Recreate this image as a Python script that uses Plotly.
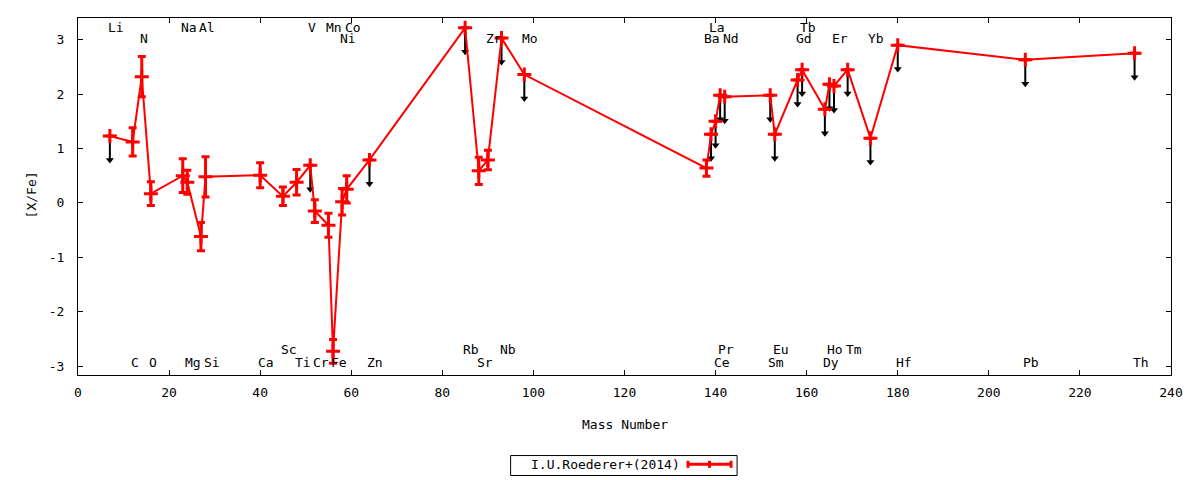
import plotly.graph_objects as go

elements = ["Li", "C", "N", "O", "Na", "Mg", "Al", "Si", "Ca", "Sc", "Ti", "V", "Cr", "Mn", "Fe",
            "Ni", "Co", "Zn", "Rb", "Sr", "Zr", "Nb", "Mo", "Ba", "La", "Ce", "Pr", "Nd", "Sm",
            "Eu", "Gd", "Tb", "Dy", "Ho", "Er", "Tm", "Yb", "Hf", "Pb", "Th"]
mass = [7, 12, 14, 16, 23, 24, 27, 28, 40, 45, 48, 51, 52, 55, 56,
        58, 59, 64, 85, 88, 90, 93, 98, 138, 139, 140, 141, 142, 152,
        153, 158, 159, 164, 165, 166, 169, 174, 180, 208, 232]
xfe = [1.23, 1.12, 2.32, 0.17, 0.50, 0.38, -0.62, 0.48, 0.51, 0.12, 0.38, 0.69, -0.15, -0.41, -2.73,
       0.02, 0.25, 0.79, 3.22, 0.59, 0.79, 3.03, 2.36, 0.64, 1.26, 1.50, 1.98, 1.95, 1.98,
       1.26, 2.26, 2.45, 1.72, 2.18, 2.15, 2.45, 1.19, 2.90, 2.63, 2.75]
err = [None, 0.26, 0.37, 0.22, 0.31, 0.22, 0.26, 0.37, 0.23, 0.17, 0.235, None, 0.21, 0.22, 0.22,
       0.245, 0.25, None, None, 0.25, 0.18, None, None, 0.15, None, None, None, None, None,
       None, None, None, None, None, None, None, None, None, None, None]
upper_limit = [True, False, False, False, False, False, False, False, False, False, False, True, False, False, False,
               False, False, True, True, False, False, True, True, False, True, True, True, True, True,
               True, True, True, True, True, True, True, True, True, True, True]

labels_top1 = ["Li", "Na", "Al", "V", "Mn", "Co", "La", "Tb"]
labels_top2 = ["N", "Ni", "Zr", "Mo", "Ba", "Nd", "Gd", "Er", "Yb"]
labels_bot1 = ["Sc", "Rb", "Nb", "Pr", "Eu", "Ho", "Tm"]
labels_bot2 = ["C", "O", "Mg", "Si", "Ca", "Ti", "Cr", "Fe", "Zn", "Sr", "Ce", "Sm", "Dy", "Hf", "Pb", "Th"]

series_name = "I.U.Roederer+(2014)"
x_ticks = list(range(0, 241, 20))
y_ticks = [-3, -2, -1, 0, 1, 2, 3]

FONT = "DejaVu Sans Mono"
FS = 13
ARROW_LEN = 0.5

fig = go.Figure()

# upper-limit arrows (shafts + heads)
sx, sy, hx, hy = [], [], [], []
for m, v, ul in zip(mass, xfe, upper_limit):
    if ul:
        sx += [m, m, None]
        sy += [v, v - ARROW_LEN + 0.08, None]
        hx.append(m)
        hy.append(v - ARROW_LEN + 0.06)
fig.add_trace(go.Scatter(x=sx, y=sy, mode="lines", line=dict(color="black", width=2),
                         hoverinfo="skip", showlegend=False))
fig.add_trace(go.Scatter(x=hx, y=hy, mode="markers",
                         marker=dict(symbol="triangle-down", size=7, color="black",
                                     line=dict(width=0)),
                         hoverinfo="skip", showlegend=False))

# main series
fig.add_trace(go.Scatter(
    x=mass, y=xfe, mode="lines+markers", name=series_name,
    line=dict(color="red", width=2),
    marker=dict(symbol="cross-thin", size=10, color="red", line=dict(color="red", width=3)),
    error_y=dict(type="data", array=err, visible=True, color="red", thickness=3, width=4),
    showlegend=False,
))

ann = []
for names, yy in ((labels_top1, 3.22), (labels_top2, 3.03), (labels_bot1, -2.69), (labels_bot2, -2.94)):
    for n in names:
        ann.append(dict(x=mass[elements.index(n)], y=yy, xref="x", yref="y", text=n,
                        showarrow=False, xanchor="left", yanchor="middle", xshift=-4,
                        font=dict(family=FONT, size=FS, color="black")))

# axis titles
ann.append(dict(x=0.5, y=-0.138, xref="paper", yref="paper", text="Mass Number", showarrow=False,
                xanchor="center", yanchor="middle", font=dict(family=FONT, size=FS, color="black")))
ann.append(dict(x=-0.043, y=0.503, xref="paper", yref="paper", text="[X/Fe]", showarrow=False,
                textangle=-90, xanchor="center", yanchor="middle",
                font=dict(family=FONT, size=FS, color="black")))

# custom key (gnuplot style: text then sample)
ann.append(dict(x=0.5530, y=-0.2505, xref="paper", yref="paper", text=series_name, showarrow=False,
                xanchor="right", yanchor="middle", font=dict(family=FONT, size=FS, color="black")))
shapes = [
    dict(type="rect", xref="paper", yref="paper", x0=0.3958, x1=0.6030, y0=-0.2815, y1=-0.2256,
         line=dict(color="black", width=1), fillcolor="rgba(0,0,0,0)"),
    dict(type="line", xref="paper", yref="paper", x0=0.5581, x1=0.5975, y0=-0.2502, y1=-0.2502,
         line=dict(color="red", width=3)),
]
for cx in (0.5581, 0.5778, 0.5975):
    shapes.append(dict(type="line", xref="paper", yref="paper", x0=cx, x1=cx, y0=-0.2600, y1=-0.2404,
                       line=dict(color="red", width=3)))

# page body has an 8px margin: size the figure so the plot area lands where the reference has it
fig.update_layout(
    width=1184, height=472,
    margin=dict(l=70, r=15, t=9, b=105, pad=0),
    paper_bgcolor="white", plot_bgcolor="white",
    font=dict(family=FONT, size=FS, color="black"),
    annotations=ann, shapes=shapes,
    showlegend=False,
)
fig.update_xaxes(range=[0, 240], tickvals=x_ticks, ticktext=[str(t) for t in x_ticks],
                 showgrid=False, zeroline=False, showline=True, linecolor="black", linewidth=1,
                 mirror="ticks", ticks="inside", ticklen=5, tickcolor="black", tickwidth=1,
                 ticklabelstandoff=5, tickfont=dict(family=FONT, size=FS, color="black"))
fig.update_yaxes(range=[-3.165, 3.40], tickvals=y_ticks, ticktext=[str(t) for t in y_ticks],
                 showgrid=False, zeroline=False, showline=True, linecolor="black", linewidth=1,
                 mirror="ticks", ticks="inside", ticklen=5, tickcolor="black", tickwidth=1,
                 ticklabelstandoff=10, tickfont=dict(family=FONT, size=FS, color="black"))

fig.write_html("out.html")
